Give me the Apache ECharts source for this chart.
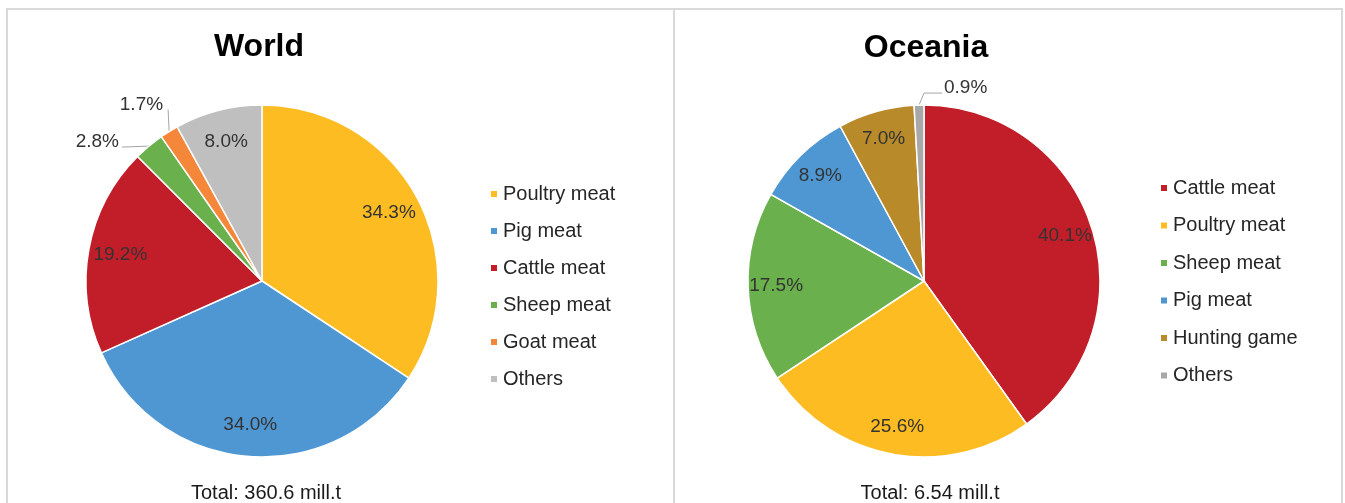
<!DOCTYPE html>
<html>
<head>
<meta charset="utf-8">
<script src="https://cdn.jsdelivr.net/npm/echarts@6/dist/echarts.min.js"></script>
<style>
html,body{margin:0;padding:0;background:#fff;}
#chart{width:1345px;height:503px;}
</style>
</head>
<body>
<div id="chart"></div>
<script>
// ---- Data ----
const worldTitle = 'World';
const worldCategories = ['Poultry meat', 'Pig meat', 'Cattle meat', 'Sheep meat', 'Goat meat', 'Others'];
const worldValues = [34.3, 34.0, 19.2, 2.8, 1.7, 8.0];
const worldTotal = 'Total: 360.6 mill.t';

const oceaniaTitle = 'Oceania';
const oceaniaCategories = ['Cattle meat', 'Poultry meat', 'Sheep meat', 'Pig meat', 'Hunting game', 'Others'];
const oceaniaValues = [40.1, 25.6, 17.5, 8.9, 7.0, 0.9];
const oceaniaTotal = 'Total: 6.54 mill.t';

// ---- Styles ----
const colorMap = {
  'Poultry meat': '#FDBC22',
  'Pig meat': '#4F97D2',
  'Cattle meat': '#C21E29',
  'Sheep meat': '#6AB04C',
  'Goat meat': '#F4873A',
  'Hunting game': '#B98A2A'
};
const worldOthersColor = '#BFBFBF';
const oceaniaOthersColor = '#A8A8A8';
const FONT = "'Liberation Sans', Arial, sans-serif";
const labelColor = '#333333';
const LABEL_SIZE = 19;

// outside-label tweaks (relative offsets from the slice edge point)
const worldOutside = {
  'Sheep meat': {line: [[-27, 1]], lx: -30, ly: -4, align: 'right'},
  'Goat meat': {line: [[-1, -22]], lx: -6, ly: -27, align: 'right'}
};
const oceaniaOutside = {
  'Others': {line: [[5, -12], [23, -12]], lx: 25, ly: -17, align: 'left'}
};

function colorOf(name, othersColor) {
  return name === 'Others' ? othersColor : colorMap[name];
}

function buildSeries(cats, vals, center, outerR, labelInnerR, othersColor, outside) {
  const fmt = p => p.value.toFixed(1) + '%';
  const visible = {
    type: 'pie',
    center: center,
    radius: [0, outerR],
    startAngle: 90,
    clockwise: true,
    avoidLabelOverlap: false,
    silent: true,
    itemStyle: {borderColor: '#ffffff', borderWidth: 1.5},
    labelLine: {show: true, length: 4, length2: 10, smooth: false,
      lineStyle: {color: '#A6A6A6', width: 1}},
    data: cats.map((n, i) => ({
      name: n, value: vals[i],
      itemStyle: {color: colorOf(n, othersColor)},
      label: {show: !!outside[n], position: 'outside', formatter: fmt,
        color: labelColor, fontFamily: FONT, fontSize: LABEL_SIZE},
      labelLine: {show: !!outside[n]}
    })),
    labelLayout: function (p) {
      const n = cats[p.dataIndex];
      const o = outside[n];
      if (!o || !p.labelLinePoints) return;
      const s = p.labelLinePoints[0];
      const pts = [[s[0], s[1]]].concat(o.line.map(d => [s[0] + d[0], s[1] + d[1]]));
      return {
        x: s[0] + o.lx, y: s[1] + o.ly, align: o.align, verticalAlign: 'middle',
        labelLinePoints: pts
      };
    }
  };
  const overlay = {
    type: 'pie',
    center: center,
    radius: [labelInnerR, outerR],
    startAngle: 90,
    clockwise: true,
    avoidLabelOverlap: false,
    silent: true,
    itemStyle: {color: 'rgba(0,0,0,0)', borderWidth: 0},
    label: {show: true, position: 'inside', formatter: fmt,
      color: labelColor, fontFamily: FONT, fontSize: LABEL_SIZE},
    labelLine: {show: false},
    data: cats.map((n, i) => ({
      name: n, value: vals[i],
      label: {show: !outside[n]}
    }))
  };
  return [visible, overlay];
}

const chart = echarts.init(document.getElementById('chart'), null, {renderer: 'canvas'});

const legendBase = {
  orient: 'vertical',
  icon: 'rect',
  itemWidth: 8,
  itemHeight: 8,
  itemGap: 17,
  padding: 0,
  selectedMode: false,
  textStyle: {fontFamily: FONT, fontSize: 20, color: '#262626', lineHeight: 20}
};

const option = {
  animation: false,
  backgroundColor: '#ffffff',
  legend: [
    Object.assign({}, legendBase, {
      left: 489, top: 184,
      data: worldCategories.map(n => ({name: n, itemStyle: {color: colorOf(n, worldOthersColor)}}))
    }),
    Object.assign({}, legendBase, {
      left: 1159, top: 178, itemGap: 17.5,
      data: oceaniaCategories.map(n => ({name: n, itemStyle: {color: colorOf(n, oceaniaOthersColor)}}))
    })
  ],
  graphic: [
    {type: 'rect', silent: true, shape: {x: 7, y: 9, width: 667, height: 520},
      style: {fill: 'none', stroke: '#D9D9D9', lineWidth: 2}},
    {type: 'rect', silent: true, shape: {x: 674, y: 9, width: 668, height: 520},
      style: {fill: 'none', stroke: '#D9D9D9', lineWidth: 2}},
    {type: 'text', silent: true, x: 259, y: 47,
      style: {text: worldTitle, font: 'bold 32px ' + FONT, fill: '#000', textAlign: 'center', textVerticalAlign: 'middle'}},
    {type: 'text', silent: true, x: 926, y: 48,
      style: {text: oceaniaTitle, font: 'bold 32px ' + FONT, fill: '#000', textAlign: 'center', textVerticalAlign: 'middle'}},
    {type: 'text', silent: true, x: 266, y: 493,
      style: {text: worldTotal, font: '20px ' + FONT, fill: '#1a1a1a', textAlign: 'center', textVerticalAlign: 'middle'}},
    {type: 'text', silent: true, x: 930, y: 493,
      style: {text: oceaniaTotal, font: '20px ' + FONT, fill: '#1a1a1a', textAlign: 'center', textVerticalAlign: 'middle'}}
  ],
  series: [].concat(
    buildSeries(worldCategories, worldValues, [262, 281], 176, 106, worldOthersColor, worldOutside),
    buildSeries(oceaniaCategories, oceaniaValues, [924, 281], 176, 114, oceaniaOthersColor, oceaniaOutside)
  )
};

chart.setOption(option);
</script>
</body>
</html>
